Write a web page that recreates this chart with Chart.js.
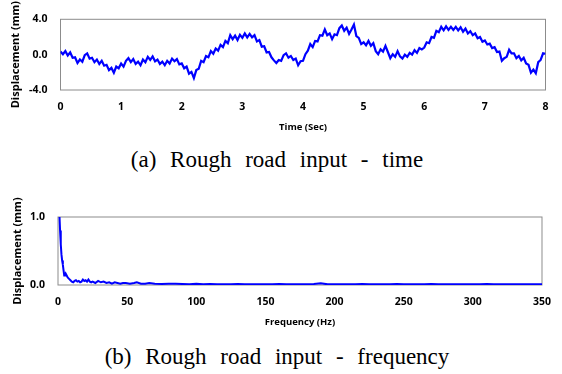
<!DOCTYPE html>
<html>
<head>
<meta charset="utf-8">
<script src="https://cdn.jsdelivr.net/npm/chart.js@4.4.1/dist/chart.umd.min.js"></script>
<style>
  body { margin: 0; background: #fff; width: 562px; height: 374px; position: relative; overflow: hidden; }
  .box { position: absolute; left: 0; width: 562px; height: 140px; }
  .caption {
    position: absolute; left: 0; width: 554px; text-align: center;
    font-family: "Liberation Serif", "Times New Roman", serif;
    font-size: 23px; line-height: 26px; word-spacing: 8px; color: #000;
  }
</style>
</head>
<body>
<div class="box" style="top:0px"><canvas id="timeChart"></canvas></div>
<div class="caption" style="top:147px">(a) Rough road input - time</div>
<div class="box" style="top:195px"><canvas id="freqChart"></canvas></div>
<div class="caption" style="top:344px">(b) Rough road input - frequency</div>

<script>
// road displacement (mm), one sample every 0.04 s
const timeStep = 0.04;
const timeDisp = [
  0.35, 0.05, 0.40, -0.10, 0.25, -0.35, -0.30, -0.95, -0.55, -0.80, -0.05, 0.15, -0.45, -0.35, -0.85, -0.55, -1.05, -0.70, -1.25, -1.15, -1.75, -1.50, -2.05, -1.35, -1.55,
  -1.00, -1.35, -0.70, -0.40, -0.85, -0.50, -1.05, -0.80, -1.20, -0.55, -0.85, -0.25, -0.60, -0.20, -0.75, -0.55, -1.05, -0.80, -1.20, -0.70, -1.00, -0.45, -0.75, -0.50, -1.10,
  -1.00, -1.55, -1.35, -2.15, -1.95, -2.65, -1.75, -1.60, -0.70, -0.85, -0.15, -0.30, 0.40, 0.10, 0.70, 0.45, 1.10, 0.85, 1.55, 1.30, 2.20, 1.75, 2.15, 1.65, 2.25,
  1.90, 2.40, 1.95, 2.35, 1.95, 2.20, 1.50, 1.65, 0.90, 0.95, 0.25, 0.30, -0.30, -0.65, -0.95, -0.60, -0.70, -0.05, 0.15, -0.35, -0.15, -0.60, -0.45, -1.20, -0.75,
  -0.70, 0.05, 0.45, 1.20, 0.85, 1.55, 1.50, 2.20, 2.15, 2.85, 2.20, 2.40, 1.75, 2.30, 2.20, 3.00, 3.30, 2.70, 3.05, 2.35, 2.85, 3.40, 2.10, 1.90, 1.20,
  1.40, 1.05, 1.55, 1.00, 1.30, 0.40, 0.05, 0.60, 0.35, 1.00, 0.30, -0.40, 0.05, -0.25, 0.40, -0.20, -0.45, 0.00, -0.25, 0.20, 0.00, 0.50, 0.20, 0.75, 0.60,
  0.80, 1.40, 1.30, 2.00, 1.90, 2.70, 2.55, 3.15, 2.75, 3.20, 2.80, 3.15, 2.80, 3.15, 2.75, 3.10, 2.60, 2.95, 2.40, 2.65, 2.20, 2.40, 1.85, 2.00, 1.45,
  1.60, 1.15, 1.25, 0.75, 0.85, 0.30, 0.35, -0.70, -0.40, -0.25, 0.55, 0.15, 0.15, -0.40, -0.15, -0.65, -0.35, -1.00, -1.15, -2.05, -1.70, -2.10, -0.85, -0.60, 0.15,
  0.10
];

// spectrum of the same input
const freqHz = [
  1, 1.5, 2, 2.5, 3, 3.5, 4, 4.5, 5, 5.5, 6,
  7, 8, 9, 10, 11, 12, 13, 14, 15, 16, 17, 18, 19, 20, 21, 22, 23, 24, 25,
  27, 29, 31, 33, 35, 37, 39, 41, 43, 45, 47, 49,
  52, 55, 57, 60, 63, 66,
  70, 75, 80, 85, 90, 95, 100,
  105, 110, 115, 120, 125, 130, 135, 140, 145, 150,
  155, 160, 165, 170, 175, 180, 185, 190, 195, 200,
  205, 210, 215, 220, 225, 230, 235, 240, 245, 250,
  255, 260, 265, 270, 275, 280, 285, 290, 295, 300,
  305, 310, 315, 320, 325, 330, 335, 340, 345, 350
];
const freqDisp = [
  1.05, 0.80, 0.60, 0.45, 0.36, 0.30, 0.22, 0.14, 0.15, 0.17, 0.15,
  0.11, 0.09, 0.07, 0.05, 0.04, 0.06, 0.07, 0.05, 0.06, 0.04, 0.05, 0.08, 0.06, 0.07, 0.05, 0.08, 0.05, 0.04, 0.05,
  0.03, 0.06, 0.04, 0.05, 0.03, 0.04, 0.02, 0.04, 0.03, 0.02, 0.03, 0.03,
  0.02, 0.03, 0.04, 0.02, 0.02, 0.03,
  0.02, 0.015, 0.02, 0.02, 0.015, 0.01, 0.02,
  0.01, 0.015, 0.01, 0.012, 0.01, 0.015, 0.01, 0.01, 0.012, 0.01,
  0.01, 0.015, 0.01, 0.01, 0.012, 0.01, 0.015, 0.025, 0.01, 0.012,
  0.01, 0.012, 0.01, 0.015, 0.01, 0.01, 0.012, 0.01, 0.015, 0.01,
  0.01, 0.012, 0.01, 0.015, 0.01, 0.01, 0.012, 0.01, 0.01, 0.012,
  0.01, 0.015, 0.01, 0.01, 0.012, 0.01, 0.01, 0.012, 0.01, 0.01
];

const timeYTicks = [-4, 0, 4];
const freqYTicks = [0, 1];

const tickFont = { family: "Open Sans", size: 10.5, weight: "bold" };
const titleFont = { family: "Open Sans", size: 9.5, weight: "bold" };
const yTitleFont = { family: "Open Sans", size: 11, weight: "bold" };

// grey box round the plot area
const frame = {
  id: "frame",
  beforeDatasetsDraw(chart) {
    const { ctx, chartArea: a } = chart;
    ctx.save();
    ctx.strokeStyle = "#8c8c8c";
    ctx.lineWidth = 1;
    ctx.strokeRect(a.left, a.top, a.right - a.left, a.bottom - a.top);
    ctx.restore();
  },
};

function makeOptions(o) {
  return {
    responsive: true,
    maintainAspectRatio: false,
    animation: false,
    layout: { padding: { top: o.padTop, right: o.padRight, left: 0, bottom: 0 } },
    plugins: { legend: { display: false }, tooltip: { enabled: false } },
    scales: {
      x: {
        type: "linear",
        min: o.xMin,
        max: o.xMax,
        afterFit: (s) => { s.height = 50; },
        grid: { display: false, drawTicks: false },
        border: { display: false },
        ticks: { stepSize: o.xStep, padding: 11, color: "#000", font: tickFont, maxRotation: 0 },
        title: { display: true, text: o.xTitle, color: "#000", font: titleFont, padding: { top: 0, bottom: 7 } },
      },
      y: {
        min: o.yTicks[0],
        max: o.yTicks[o.yTicks.length - 1],
        afterFit: (s) => { s.width = o.yWidth; },
        afterBuildTicks: (s) => { s.ticks = o.yTicks.map((v) => ({ value: v })); },
        grid: { display: false, drawTicks: false },
        border: { display: false },
        ticks: { padding: 13, color: "#000", font: tickFont, callback: (v) => v.toFixed(1) },
        title: { display: true, text: "Displacement (mm)", color: "#000", font: yTitleFont, padding: { top: o.yTitlePad, bottom: 0 } },
      },
    },
  };
}

new Chart(document.getElementById("timeChart"), {
  type: "line",
  data: {
    datasets: [{
      data: timeDisp.map((v, i) => ({ x: +(i * timeStep).toFixed(2), y: v })),
      borderColor: "#0000ff",
      borderWidth: 2.2,
      pointRadius: 0,
      tension: 0,
    }],
  },
  options: makeOptions({
    padTop: 18, padRight: 16.5, yWidth: 60.5, yTitlePad: 9,
    xMin: 0, xMax: 8, xStep: 1, xTitle: "Time (Sec)", yTicks: timeYTicks,
  }),
  plugins: [frame],
});

new Chart(document.getElementById("freqChart"), {
  type: "line",
  data: {
    datasets: [{
      data: freqHz.map((f, i) => ({ x: f, y: freqDisp[i] })),
      borderColor: "#0000ff",
      borderWidth: 2,
      pointRadius: 0,
      tension: 0,
    }],
  },
  options: makeOptions({
    padTop: 22, padRight: 18.5, yWidth: 58, yTitlePad: 11,
    xMin: 0, xMax: 350, xStep: 50, xTitle: "Frequency (Hz)", yTicks: freqYTicks,
  }),
  plugins: [frame],
});
</script>
</body>
</html>
